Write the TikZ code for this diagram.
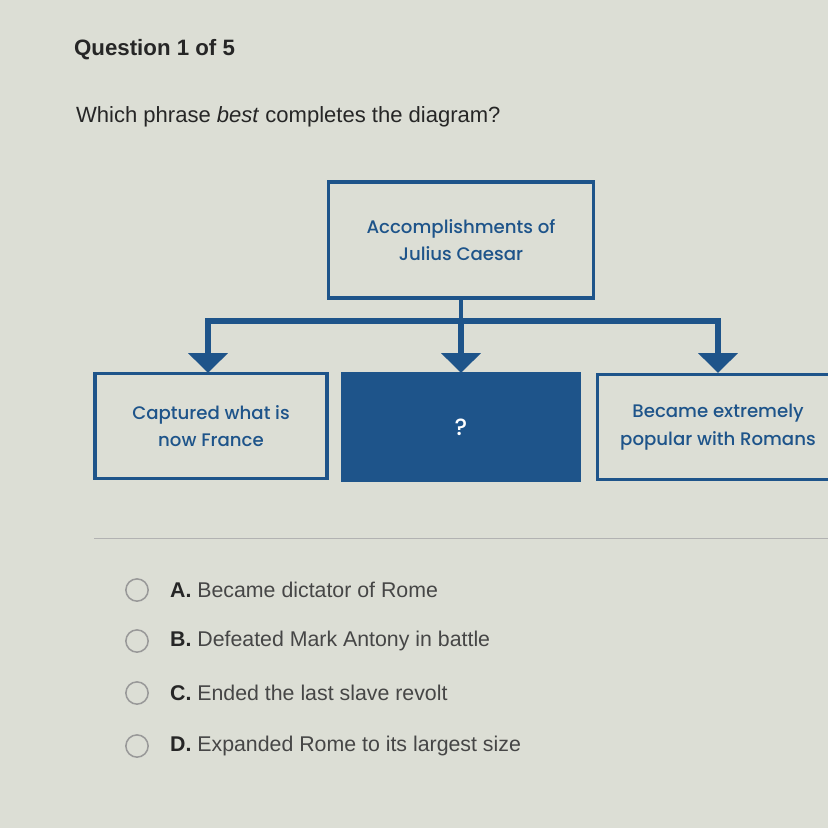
\documentclass[tikz,border=0pt]{standalone}
\usepackage{fontspec}
\setmainfont{Liberation Sans}
\newfontfamily\popfont{Poppins Medium}
\usetikzlibrary{arrows.meta,positioning}
\definecolor{bg}{RGB}{220,222,213}
\definecolor{cblue}{RGB}{30,84,138}
\definecolor{ink}{RGB}{38,38,38}
\definecolor{opt}{RGB}{70,70,70}
\begin{document}
\begin{tikzpicture}[x=0.03cm,y=-0.03cm]
	\tikzset{b/.style={draw=cblue,line width=2.6pt,rectangle,align=center,text=cblue,font=\popfont\fontsize{15.5}{23.5}\selectfont},
	ar/.style={draw=cblue,line width=5pt,-{Triangle[width=33pt,length=17pt]}},
	rb/.style={circle,draw=gray!80,line width=1.3pt,minimum size=19pt,inner sep=0pt}}
	\fill[bg](0,0)rectangle(828,828);
	\clip(0,0)rectangle(828,828);
	\path(70,50)node[anchor=west,text=ink,font=\bfseries\fontsize{19}{22}\selectfont](q){Question 1 of 5};
	\path(72,117)node[anchor=west,text=ink,font=\fontsize{18.8}{22}\selectfont](w){Which phrase \textit{best} completes the diagram?};
	\path(461,240)node[b,minimum width=226pt,minimum height=99pt](T){Accomplishments of\\Julius Caesar};
	\path(211,426)node[b,minimum width=198pt,minimum height=89pt](L){Captured what is\\now France};
	\path(461,427)node[b,fill=cblue,text=white,minimum width=202pt,minimum height=92pt,font=\popfont\fontsize{20}{24}\selectfont](M){?};
	\path(718,427)node[b,minimum width=205pt,minimum height=90pt](R){Became extremely\\popular with Romans};
	\coordinate(bus)at(461,321);
	\draw[cblue,line width=4pt](T.south)--(bus);
	\draw[cblue,line width=5.5pt](bus-|208,0)--(bus-|718,0);
	\foreach \x/\y in {208/L,461/M,718/R}
	\draw[ar](\x,318)--(\x,373);
	\draw[gray!60,line width=0.8pt](94,538)--(828,538);
	% answer choices
	\foreach \n/\k/\t/\y in {a/A/Became dictator of Rome/590,b/B/Defeated Mark Antony in battle/641,c/C/Ended the last slave revolt/693,d/D/Expanded Rome to its largest size/746}{
	\path(137,\y)node[rb](o\n){};
	\path(166,\y)node[anchor=west,text=opt,font=\fontsize{18.2}{22}\selectfont](t\n){\textcolor{ink}{\textbf{\k.}}\ \t};
	}
\end{tikzpicture}
\end{document}
